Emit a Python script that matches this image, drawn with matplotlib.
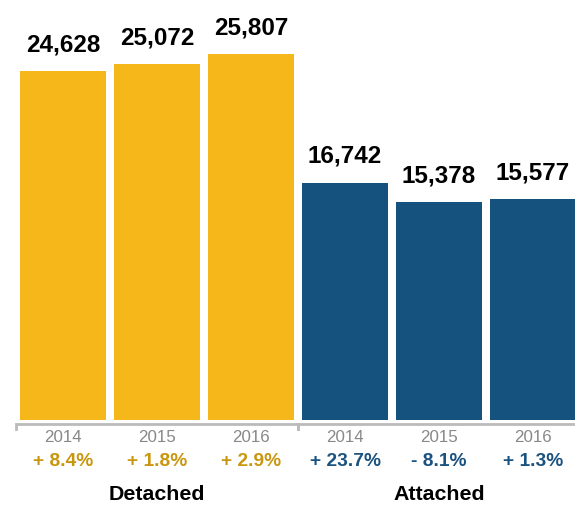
import matplotlib.pyplot as plt
from matplotlib.transforms import blended_transform_factory

# data
groups = ["Detached", "Attached"]
years = ["2014", "2015", "2016"]
detached = [24628, 25072, 25807]
attached = [16742, 15378, 15577]
detached_change = ["+ 8.4%", "+ 1.8%", "+ 2.9%"]
attached_change = ["+ 23.7%", "- 8.1%", "+ 1.3%"]

GOLD = "#F5B71A"
GOLD_TEXT = "#C9960F"
BLUE = "#15527D"
BLUE_TEXT = "#1A5280"

plt.rcParams['font.family'] = ['Liberation Sans', 'DejaVu Sans']

fig = plt.figure(figsize=(5.75, 5.08), dpi=100)
ax = fig.add_axes([0, 88 / 508, 1, 420 / 508])

values = detached + attached
labels = years + years
changes = detached_change + attached_change
colors = [GOLD] * len(detached) + [BLUE] * len(attached)
text_colors = [GOLD_TEXT] * len(detached) + [BLUE_TEXT] * len(attached)
xs = list(range(len(values)))

ax.bar(xs, values, width=0.915, color=colors)
ax.set_xlim(-63 / 94, (575 - 63) / 94)
ax.set_ylim(0, 420 * 70.5)
ax.axis("off")

for x, v in zip(xs, values):
    ax.annotate(f"{v:,}", (x, v), xytext=(0, 10.5), textcoords="offset points",
                ha="center", va="bottom", fontsize=17.5, fontweight="bold", color="black")

trans = blended_transform_factory(ax.transData, fig.transFigure)
for x, lab, ch, tc in zip(xs, labels, changes, text_colors):
    ax.text(x, (508 - 437) / 508, lab, transform=trans, ha="center", va="center",
            fontsize=12.2, color="#888888")
    ax.text(x, (508 - 461) / 508, ch, transform=trans, ha="center", va="center",
            fontsize=13.8, fontweight="bold", color=tc)

# group brackets and labels
n = len(years)
for i, g in enumerate(groups):
    left = i * n - 0.5
    right = left + n
    y_line = (508 - 424) / 508
    y_tick = (508 - 429) / 508
    ax.plot([left, right], [y_line, y_line], transform=trans, color="#BBBBBB",
            lw=2, clip_on=False, solid_capstyle="butt")
    for e in (left, right):
        ax.plot([e, e], [y_line, y_tick], transform=trans, color="#BBBBBB",
                lw=2, clip_on=False)
    ax.text((left + right) / 2, (508 - 494) / 508, g, transform=trans,
            ha="center", va="center", fontsize=15.4, fontweight="bold", color="black")

fig.savefig("out.png", dpi=100)
